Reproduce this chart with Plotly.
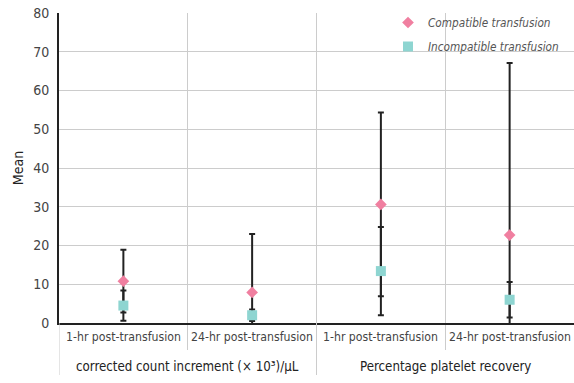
import plotly.graph_objects as go

groups = ["corrected count increment (× 10³)/μL", "Percentage platelet recovery"]
group_of = [0, 0, 1, 1]
timepoints = ["1-hr post-transfusion", "24-hr post-transfusion",
              "1-hr post-transfusion", "24-hr post-transfusion"]

compatible_mean = [10.8, 7.9, 30.6, 22.7]
compatible_err = [8.1, 15.1, 23.7, 44.4]
incompatible_mean = [4.5, 2.0, 13.4, 6.0]
incompatible_err = [3.9, 1.5, 11.4, 4.6]

y_ticks = [0, 10, 20, 30, 40, 50, 60, 70, 80]

FONT = "DejaVu Sans Condensed, DejaVu Sans, sans-serif"
GRID = "#cccccc"
AXIS = "#222222"

W, H = 574, 383
ML, MT, MB = 59, 13, 60
plot_h = H - MT - MB
plot_w = W - ML

xpos = list(range(len(timepoints)))

fig = go.Figure()
fig.add_trace(go.Scatter(
    x=xpos, y=compatible_mean, mode="markers",
    name="Compatible transfusion",
    marker=dict(symbol="diamond", size=9, color="#F07FA0"),
    error_y=dict(type="data", array=compatible_err, color=AXIS, thickness=2, width=3),
    legendgroup="a",
))
fig.add_trace(go.Scatter(
    x=xpos, y=incompatible_mean, mode="markers",
    name="Incompatible transfusion",
    marker=dict(symbol="square", size=10, color="#8ED5D1"),
    error_y=dict(type="data", array=incompatible_err, color=AXIS, thickness=2, width=3),
    legendgroup="b",
))

annotations = []
for i, t in enumerate(timepoints):
    annotations.append(dict(x=xpos[i], y=-14 / plot_h, xref="x", yref="paper",
                            text=t, showarrow=False, yanchor="middle",
                            font=dict(size=12.2, color="#444444")))
for g, name in enumerate(groups):
    members = [xpos[i] for i in range(len(group_of)) if group_of[i] == g]
    annotations.append(dict(x=sum(members) / len(members), y=-43 / plot_h,
                            xref="x", yref="paper", text=name, showarrow=False,
                            yanchor="middle", font=dict(size=13.2, color="#222222")))

shapes = []
for b in [-0.5, 1.5]:
    shapes.append(dict(type="line", xref="x", yref="paper", x0=b, x1=b,
                       y0=0, y1=-52 / plot_h, line=dict(color=GRID, width=1)))

fig.update_layout(
    width=W, height=H,
    margin=dict(l=ML, r=0, t=MT, b=MB, autoexpand=False),
    paper_bgcolor="white", plot_bgcolor="white",
    font=dict(family=FONT, size=13, color="#333333"),
    legend=dict(x=(388 - ML) / plot_w, y=1 + 5 / plot_h, xanchor="left", yanchor="top",
                font=dict(size=11.7, color="#555555", style="italic"),
                bgcolor="rgba(0,0,0,0)", tracegroupgap=5, traceorder="grouped"),
    showlegend=True,
    annotations=annotations,
    shapes=shapes,
)
fig.update_yaxes(
    range=[0, 80], tickvals=y_ticks, showgrid=True, gridcolor=GRID, gridwidth=1,
    showline=True, linecolor=AXIS, linewidth=2, ticks="", ticklabelstandoff=5,
    ticklabeloverflow="allow",
    tickfont=dict(size=14, color="#444444"),
    title=dict(text="Mean", font=dict(size=14, color="#222222"), standoff=6),
    zeroline=False,
)
fig.update_xaxes(
    range=[-0.5, 3.5], tickvals=[0.5, 1.5, 2.5], showticklabels=False,
    showgrid=True, gridcolor=GRID, gridwidth=1,
    showline=True, linecolor=AXIS, linewidth=2,
    ticks="outside", ticklen=25, tickcolor=GRID, tickwidth=1,
    zeroline=False,
)

fig.write_html(
    "out.html",
    config={"displayModeBar": False},
    post_script="document.body.style.margin='0';document.body.style.overflow='hidden';",
)
